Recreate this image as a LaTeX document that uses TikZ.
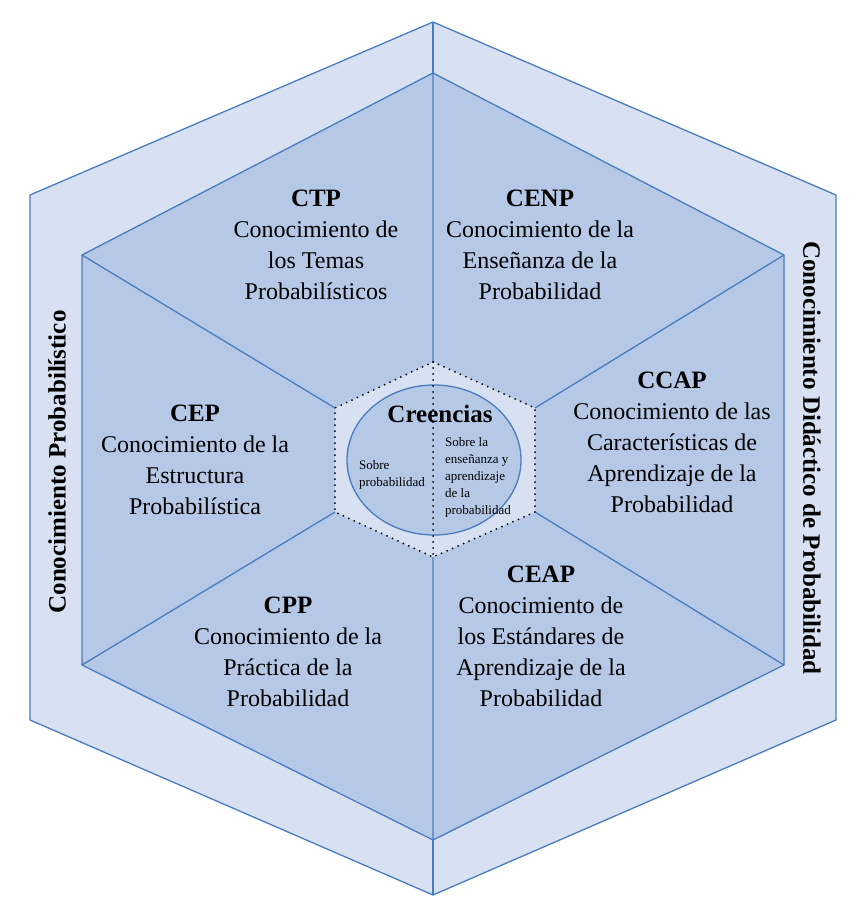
\documentclass[tikz,border=0pt]{standalone}
\usepackage{fontspec}
\setmainfont{Liberation Serif}
\begin{document}
\begin{tikzpicture}[x=1pt,y=-1pt,
  edge/.style={draw=edgeblue,line width=1.3pt,line join=miter},
  txt/.style={align=center,font=\fontsize{24}{31}\selectfont},
  ttl/.style={font=\bfseries\fontsize{27}{31}\selectfont},
  small/.style={align=left,font=\fontsize{13}{17}\selectfont}]
\definecolor{edgeblue}{HTML}{4A7CC0}
\definecolor{outerfill}{HTML}{D7E1F1}
\definecolor{innerfill}{HTML}{B5C8E6}
\useasboundingbox (0,0) rectangle (863,915);
\fill[white] (0,0) rectangle (863,915);
\coordinate (O1) at (433,22); \coordinate (O2) at (836,195); \coordinate (O3) at (836,720);
\coordinate (O4) at (433,895); \coordinate (O5) at (30,720); \coordinate (O6) at (30,195);
\coordinate (I1) at (433,73); \coordinate (I2) at (784,255); \coordinate (I3) at (784,665);
\coordinate (I4) at (433,840); \coordinate (I5) at (82,665); \coordinate (I6) at (82,255);
\coordinate (C1) at (433,362); \coordinate (C2) at (535,408); \coordinate (C3) at (535,512);
\coordinate (C4) at (433,557); \coordinate (C5) at (335,512); \coordinate (C6) at (335,408);
\path[edge,fill=outerfill] (O1)--(O2)--(O3)--(O4)--(O5)--(O6)--cycle;
\path[edge,fill=innerfill] (I1)--(I2)--(I3)--(I4)--(I5)--(I6)--cycle;
\draw[edge] (O1)--(I1) (O4)--(I4);
\draw[edge] (I1)--(C1) (I2)--(C2) (I3)--(C3) (I4)--(C4) (I5)--(C5) (I6)--(C6);
\path[fill=outerfill] (C1)--(C2)--(C3)--(C4)--(C5)--(C6)--cycle;
\draw[line width=2pt,dash pattern=on 0pt off 6pt,line cap=round] (C1)--(C2)--(C3)--(C4)--(C5)--(C6)--cycle;
\draw[draw=edgeblue,line width=1.3pt,fill=innerfill] (434,460) ellipse (87 and 75);
\draw[line width=2pt,dash pattern=on 0pt off 6pt,line cap=round] (C1)--(C4);
\node[font=\bfseries\fontsize{25}{28}\selectfont] (cr) at (440,414) {Creencias};
\node[small] (s1) at (392,475) {Sobre\\probabilidad};
\node[small] (s2) at (478,477) {Sobre la\\enseñanza y\\aprendizaje\\de la\\probabilidad};
\node[txt] (ctp) at (316,245) {{\bfseries\fontsize{25}{31}\selectfont CTP}\\Conocimiento de\\los Temas\\Probabilísticos};
\node[txt] (cenp) at (540,245) {{\bfseries\fontsize{25}{31}\selectfont CENP}\\Conocimiento de la\\Enseñanza de la\\Probabilidad};
\node[txt] (ccap) at (672,442) {{\bfseries\fontsize{25}{31}\selectfont CCAP}\\Conocimiento de las\\Características de\\Aprendizaje de la\\Probabilidad};
\node[txt] (cep) at (195,460) {{\bfseries\fontsize{25}{31}\selectfont CEP}\\Conocimiento de la\\Estructura\\Probabilística};
\node[txt] (cpp) at (288,652) {{\bfseries\fontsize{25}{31}\selectfont CPP}\\Conocimiento de la\\Práctica de la\\Probabilidad};
\node[txt] (ceap) at (541,636) {{\bfseries\fontsize{25}{31}\selectfont CEAP}\\Conocimiento de\\los Estándares de\\Aprendizaje de la\\Probabilidad};
\node[rotate=90,font=\bfseries\fontsize{25}{28}\selectfont] (kp) at (57,462) {Conocimiento Probabilístico};
\node[rotate=-90,font=\bfseries\fontsize{25}{28}\selectfont] (kd) at (812,458) {Conocimiento Didáctico de Probabilidad};
\end{tikzpicture}
\end{document}
